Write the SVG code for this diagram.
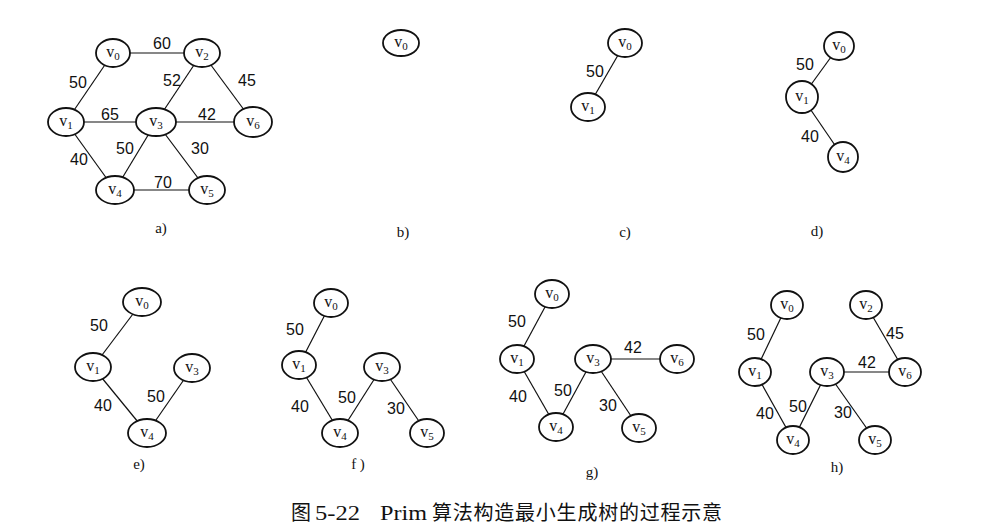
<svg xmlns="http://www.w3.org/2000/svg" width="986" height="530" viewBox="0 0 986 530">
<style>
.n ellipse{fill:#fff;stroke:#111;stroke-width:1.8}
.e line{stroke:#111;stroke-width:1.2}
.v{font-family:"Liberation Serif",serif;font-size:16px;fill:#111;text-anchor:middle}
.s{font-size:11px}
.w{font-family:"Liberation Sans",Arial,sans-serif;font-size:16px;fill:#111;text-anchor:middle}
.p{font-family:"Liberation Serif",serif;font-size:15px;fill:#111;text-anchor:middle}
.cap{font-family:"Liberation Serif","Noto Sans CJK SC",serif;font-size:20px;fill:#111}
</style>
<rect width="986" height="530" fill="#fff"/>
<g id="connectors" class="e">
<!-- a -->
<line x1="113" y1="53" x2="202" y2="53"/>
<line x1="113" y1="53" x2="66" y2="122"/>
<line x1="202" y1="53" x2="156" y2="122"/>
<line x1="202" y1="53" x2="253" y2="122"/>
<line x1="66" y1="122" x2="156" y2="122"/>
<line x1="156" y1="122" x2="253" y2="122"/>
<line x1="66" y1="122" x2="115" y2="190"/>
<line x1="156" y1="122" x2="115" y2="190"/>
<line x1="156" y1="122" x2="207" y2="190"/>
<line x1="115" y1="190" x2="207" y2="190"/>
<!-- c -->
<line x1="625" y1="43" x2="588" y2="107"/>
<!-- d -->
<line x1="839" y1="46" x2="802" y2="97"/>
<line x1="802" y1="97" x2="843" y2="157"/>
<!-- e -->
<line x1="142" y1="302" x2="93" y2="367"/>
<line x1="93" y1="367" x2="147" y2="433"/>
<line x1="192" y1="368" x2="147" y2="433"/>
<!-- f -->
<line x1="331" y1="303" x2="299" y2="365"/>
<line x1="299" y1="365" x2="340" y2="433"/>
<line x1="382" y1="367" x2="340" y2="433"/>
<line x1="382" y1="367" x2="427" y2="433"/>
<!-- g -->
<line x1="552" y1="294" x2="517" y2="359"/>
<line x1="517" y1="359" x2="556" y2="427"/>
<line x1="593" y1="359" x2="556" y2="427"/>
<line x1="593" y1="359" x2="639" y2="428"/>
<line x1="593" y1="359" x2="677" y2="359"/>
<!-- h -->
<line x1="787" y1="305" x2="755" y2="372"/>
<line x1="755" y1="372" x2="793" y2="440"/>
<line x1="827" y1="372" x2="793" y2="440"/>
<line x1="827" y1="372" x2="875" y2="440"/>
<line x1="827" y1="372" x2="905" y2="372"/>
<line x1="866" y1="305" x2="905" y2="372"/>
</g>
<!-- panel a nodes -->
<g id="a-v0" class="n"><ellipse cx="113" cy="53" rx="17" ry="14"/><text class="v" x="113" y="57">v<tspan class="s" dy="3">0</tspan></text></g>
<g id="a-v2" class="n"><ellipse cx="202" cy="53" rx="18" ry="14"/><text class="v" x="202" y="57">v<tspan class="s" dy="3">2</tspan></text></g>
<g id="a-v1" class="n"><ellipse cx="66" cy="122" rx="18" ry="14"/><text class="v" x="66" y="126">v<tspan class="s" dy="3">1</tspan></text></g>
<g id="a-v3" class="n"><ellipse cx="156" cy="122" rx="20" ry="14"/><text class="v" x="156" y="126">v<tspan class="s" dy="3">3</tspan></text></g>
<g id="a-v6" class="n"><ellipse cx="253" cy="122" rx="19" ry="15"/><text class="v" x="253" y="126">v<tspan class="s" dy="3">6</tspan></text></g>
<g id="a-v4" class="n"><ellipse cx="115" cy="190" rx="19" ry="14"/><text class="v" x="115" y="194">v<tspan class="s" dy="3">4</tspan></text></g>
<g id="a-v5" class="n"><ellipse cx="207" cy="190" rx="18" ry="14"/><text class="v" x="207" y="194">v<tspan class="s" dy="3">5</tspan></text></g>
<g id="a-labels">
<text class="w" x="162" y="49">60</text>
<text class="w" x="78" y="88">50</text>
<text class="w" x="172" y="86">52</text>
<text class="w" x="247" y="86">45</text>
<text class="w" x="110" y="120">65</text>
<text class="w" x="207" y="120">42</text>
<text class="w" x="125" y="154">50</text>
<text class="w" x="200" y="154">30</text>
<text class="w" x="79" y="165">40</text>
<text class="w" x="163" y="188">70</text>
<text class="p" x="161" y="233">a)</text>
</g>
<!-- panel b -->
<g id="b-v0" class="n"><ellipse cx="401" cy="43" rx="18" ry="13"/><text class="v" x="401" y="47">v<tspan class="s" dy="3">0</tspan></text></g>
<text class="p" x="403" y="237">b)</text>
<!-- panel c -->
<g id="c-v0" class="n"><ellipse cx="625" cy="43" rx="17" ry="14"/><text class="v" x="625" y="47">v<tspan class="s" dy="3">0</tspan></text></g>
<g id="c-v1" class="n"><ellipse cx="588" cy="107" rx="17" ry="14"/><text class="v" x="588" y="111">v<tspan class="s" dy="3">1</tspan></text></g>
<text class="w" x="595" y="77">50</text>
<text class="p" x="625" y="237">c)</text>
<!-- panel d -->
<g id="d-v0" class="n"><ellipse cx="839" cy="46" rx="15" ry="14"/><text class="v" x="839" y="50">v<tspan class="s" dy="3">0</tspan></text></g>
<g id="d-v1" class="n"><ellipse cx="802" cy="97" rx="16" ry="16"/><text class="v" x="802" y="101">v<tspan class="s" dy="3">1</tspan></text></g>
<g id="d-v4" class="n"><ellipse cx="843" cy="157" rx="15" ry="15"/><text class="v" x="843" y="161">v<tspan class="s" dy="3">4</tspan></text></g>
<text class="w" x="805" y="70">50</text>
<text class="w" x="810" y="142">40</text>
<text class="p" x="817" y="236">d)</text>
<!-- panel e -->
<g id="e-v0" class="n"><ellipse cx="142" cy="302" rx="19" ry="14"/><text class="v" x="142" y="306">v<tspan class="s" dy="3">0</tspan></text></g>
<g id="e-v1" class="n"><ellipse cx="93" cy="367" rx="18" ry="14"/><text class="v" x="93" y="371">v<tspan class="s" dy="3">1</tspan></text></g>
<g id="e-v3" class="n"><ellipse cx="192" cy="368" rx="18" ry="14"/><text class="v" x="192" y="372">v<tspan class="s" dy="3">3</tspan></text></g>
<g id="e-v4" class="n"><ellipse cx="147" cy="433" rx="19" ry="14"/><text class="v" x="147" y="437">v<tspan class="s" dy="3">4</tspan></text></g>
<text class="w" x="99" y="331">50</text>
<text class="w" x="103" y="411">40</text>
<text class="w" x="156" y="402">50</text>
<text class="p" x="139" y="469">e)</text>
<!-- panel f -->
<g id="f-v0" class="n"><ellipse cx="331" cy="303" rx="17" ry="14"/><text class="v" x="331" y="307">v<tspan class="s" dy="3">0</tspan></text></g>
<g id="f-v1" class="n"><ellipse cx="299" cy="365" rx="17" ry="14"/><text class="v" x="299" y="369">v<tspan class="s" dy="3">1</tspan></text></g>
<g id="f-v3" class="n"><ellipse cx="382" cy="367" rx="18" ry="14"/><text class="v" x="382" y="371">v<tspan class="s" dy="3">3</tspan></text></g>
<g id="f-v4" class="n"><ellipse cx="340" cy="433" rx="18" ry="14"/><text class="v" x="340" y="437">v<tspan class="s" dy="3">4</tspan></text></g>
<g id="f-v5" class="n"><ellipse cx="427" cy="433" rx="17" ry="14"/><text class="v" x="427" y="437">v<tspan class="s" dy="3">5</tspan></text></g>
<text class="w" x="295" y="335">50</text>
<text class="w" x="300" y="412">40</text>
<text class="w" x="347" y="403">50</text>
<text class="w" x="396" y="414">30</text>
<text class="p" x="358" y="469">f )</text>
<!-- panel g -->
<g id="g-v0" class="n"><ellipse cx="552" cy="294" rx="17" ry="14"/><text class="v" x="552" y="298">v<tspan class="s" dy="3">0</tspan></text></g>
<g id="g-v1" class="n"><ellipse cx="517" cy="359" rx="17" ry="14"/><text class="v" x="517" y="363">v<tspan class="s" dy="3">1</tspan></text></g>
<g id="g-v3" class="n"><ellipse cx="593" cy="359" rx="18" ry="14"/><text class="v" x="593" y="363">v<tspan class="s" dy="3">3</tspan></text></g>
<g id="g-v6" class="n"><ellipse cx="677" cy="359" rx="17" ry="14"/><text class="v" x="677" y="363">v<tspan class="s" dy="3">6</tspan></text></g>
<g id="g-v4" class="n"><ellipse cx="556" cy="427" rx="17" ry="14"/><text class="v" x="556" y="431">v<tspan class="s" dy="3">4</tspan></text></g>
<g id="g-v5" class="n"><ellipse cx="639" cy="428" rx="17" ry="14"/><text class="v" x="639" y="432">v<tspan class="s" dy="3">5</tspan></text></g>
<text class="w" x="517" y="327">50</text>
<text class="w" x="518" y="402">40</text>
<text class="w" x="563" y="396">50</text>
<text class="w" x="608" y="411">30</text>
<text class="w" x="633" y="353">42</text>
<text class="p" x="592" y="477">g)</text>
<!-- panel h -->
<g id="h-v0" class="n"><ellipse cx="787" cy="305" rx="16" ry="14"/><text class="v" x="787" y="309">v<tspan class="s" dy="3">0</tspan></text></g>
<g id="h-v2" class="n"><ellipse cx="866" cy="305" rx="16" ry="14"/><text class="v" x="866" y="309">v<tspan class="s" dy="3">2</tspan></text></g>
<g id="h-v1" class="n"><ellipse cx="755" cy="372" rx="16" ry="14"/><text class="v" x="755" y="376">v<tspan class="s" dy="3">1</tspan></text></g>
<g id="h-v3" class="n"><ellipse cx="827" cy="372" rx="17" ry="14"/><text class="v" x="827" y="376">v<tspan class="s" dy="3">3</tspan></text></g>
<g id="h-v6" class="n"><ellipse cx="905" cy="372" rx="16" ry="14"/><text class="v" x="905" y="376">v<tspan class="s" dy="3">6</tspan></text></g>
<g id="h-v4" class="n"><ellipse cx="793" cy="440" rx="16" ry="14"/><text class="v" x="793" y="444">v<tspan class="s" dy="3">4</tspan></text></g>
<g id="h-v5" class="n"><ellipse cx="875" cy="440" rx="16" ry="14"/><text class="v" x="875" y="444">v<tspan class="s" dy="3">5</tspan></text></g>
<text class="w" x="756" y="340">50</text>
<text class="w" x="895" y="339">45</text>
<text class="w" x="867" y="368">42</text>
<text class="w" x="765" y="419">40</text>
<text class="w" x="798" y="412">50</text>
<text class="w" x="843" y="418">30</text>
<text class="p" x="837" y="472">h)</text>
<!-- caption -->
<text class="cap" y="520"><tspan x="291">图</tspan><tspan x="315" textLength="45" lengthAdjust="spacingAndGlyphs">5-22</tspan><tspan x="380" textLength="47" lengthAdjust="spacingAndGlyphs">Prim</tspan><tspan x="432" textLength="290" lengthAdjust="spacing">算法构造最小生成树的过程示意</tspan></text>
</svg>
